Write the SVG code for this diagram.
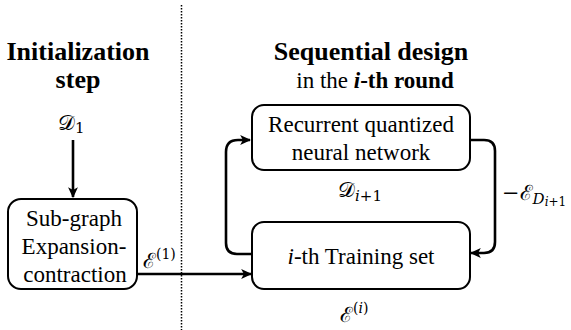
<svg xmlns="http://www.w3.org/2000/svg" width="571" height="330" viewBox="0 0 571 330">
<style>
text{font-family:"Liberation Serif","Times New Roman",serif;fill:#000}
.h{font-weight:bold;font-size:26px;text-anchor:middle}
.t{font-size:23px;text-anchor:middle}
.m{font-family:"DejaVu Serif","Liberation Serif",serif;font-size:21px}
.box{fill:#fff;stroke:#000;stroke-width:2}
.c{fill:none;stroke:#000;stroke-width:2.6}
</style>
<defs>
<marker id="ah" viewBox="0 0 10 10" refX="9" refY="5" markerWidth="4.2" markerHeight="4.2" orient="auto" markerUnits="strokeWidth">
<path d="M0,0.5 L10,5 L0,9.5 L2.5,5 Z" fill="#000"/>
</marker>
</defs>
<rect width="571" height="330" fill="#fff"/>
<line x1="181.5" y1="5" x2="181.5" y2="330" stroke="#000" stroke-width="1.5" stroke-dasharray="1.5,1.5"/>
<text class="h" x="78" y="60">Initialization</text>
<text class="h" x="78" y="88">step</text>
<text class="h" x="371" y="60">Sequential design</text>
<text x="375" y="88" style="font-size:23px;text-anchor:middle">in the <tspan font-weight="bold" font-style="italic">i</tspan><tspan font-weight="bold">-th round</tspan></text>
<g id="connectors">
<path class="c" d="M73,140 V197" marker-end="url(#ah)"/>
<path class="c" d="M137,274 H251" marker-end="url(#ah)"/>
<path class="c" d="M252,254 H237 Q226,254 226,243 V152 Q226,140 238,140 H250" marker-end="url(#ah)"/>
<path class="c" d="M470,140 H484 Q495,140 495,151 V242 Q495,253 484,253 H471" marker-end="url(#ah)"/>
</g>
<g id="subgraph">
<rect class="box" x="8" y="199" width="129" height="90" rx="13"/>
<text class="t" x="74" y="226">Sub-graph</text>
<text class="t" x="74" y="254">Expansion-</text>
<text class="t" x="75" y="282">contraction</text>
</g>
<g id="rqnn">
<rect class="box" x="252" y="105" width="218" height="65" rx="12"/>
<text class="t" x="361" y="132">Recurrent quantized</text>
<text class="t" x="361" y="160">neural network</text>
</g>
<g id="training">
<rect class="box" x="252" y="222" width="218" height="67" rx="12"/>
<text class="t" x="361" y="264"><tspan font-style="italic">i</tspan>-th Training set</text>
</g>
<g id="labels">
<text class="m" x="58" y="130">𝒟<tspan font-size="15" dy="3">1</tspan></text>
<text class="m" x="143" y="268">ℰ<tspan font-size="14" dy="-9">(1)</tspan></text>
<text class="m" x="338" y="197">𝒟<tspan font-size="15" dy="4" font-style="italic">i</tspan><tspan font-size="15">+1</tspan></text>
<text class="m" x="502" y="200">−ℰ<tspan font-size="15" dy="4" font-style="italic">D</tspan><tspan font-size="12" dy="2" font-style="italic">i</tspan><tspan font-size="12">+1</tspan></text>
<text class="m" x="340" y="322">ℰ<tspan font-size="14" dy="-9">(</tspan><tspan font-size="14" font-style="italic">i</tspan><tspan font-size="14">)</tspan></text>
</g>
</svg>
